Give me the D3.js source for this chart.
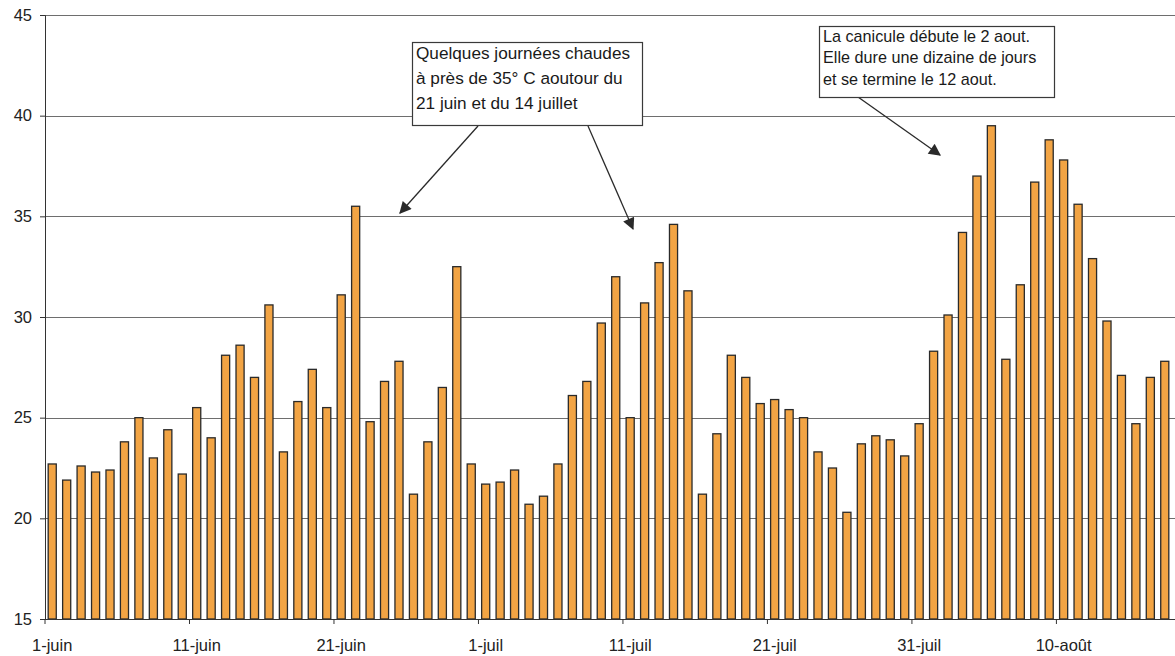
<!DOCTYPE html>
<html>
<head>
<meta charset="utf-8">
<script src="https://cdn.jsdelivr.net/npm/d3@7"></script>
<style>
  html, body { margin: 0; padding: 0; background: #ffffff; }
  svg { display: block; font-family: "Liberation Sans", Arial, sans-serif; }
</style>
</head>
<body>
<svg id="chart" width="1175" height="656"></svg>
<script>
// Daily maximum temperatures (°C), 1 June – 17 August
const temperatures = [
  22.7, 21.9, 22.6, 22.3, 22.4, 23.8, 25.0, 23.0, 24.4, 22.2,
  25.5, 24.0, 28.1, 28.6, 27.0, 30.6, 23.3, 25.8, 27.4, 25.5,
  31.1, 35.5, 24.8, 26.8, 27.8, 21.2, 23.8, 26.5, 32.5, 22.7,
  21.7, 21.8, 22.4, 20.7, 21.1, 22.7, 26.1, 26.8, 29.7, 32.0,
  25.0, 30.7, 32.7, 34.6, 31.3, 21.2, 24.2, 28.1, 27.0, 25.7,
  25.9, 25.4, 25.0, 23.3, 22.5, 20.3, 23.7, 24.1, 23.9, 23.1,
  24.7, 28.3, 30.1, 34.2, 37.0, 39.5, 27.9, 31.6, 36.7, 38.8,
  37.8, 35.6, 32.9, 29.8, 27.1, 24.7, 27.0, 27.8
];
const days = d3.range(temperatures.length); // day index from 1 June
const tickLabels = ["1-juin", "11-juin", "21-juin", "1-juil", "11-juil", "21-juil", "31-juil", "10-août"];
const tickIndex = [0, 10, 20, 30, 40, 50, 60, 70];
const yTicks = [15, 20, 25, 30, 35, 40, 45];

const notes = [
  { lines: ["Quelques journées chaudes", "à près de 35° C aoutour du", "21 juin et du 14 juillet"] },
  { lines: ["La canicule débute le 2 aout.", "Elle dure une dizaine de jours", "et se termine le 12 aout."] }
];

const svg = d3.select("#chart");
const pLeft = 45, pRight = 1172, pTop = 15, pBottom = 619;

const x = d3.scaleBand().domain(days).range([pLeft, pRight]).padding(0);
const y = d3.scaleLinear().domain([15, 45]).range([pBottom, pTop]);

// gridlines
svg.append("g").selectAll("line")
  .data(yTicks.filter(t => t > 15))
  .join("line")
  .attr("x1", pLeft).attr("x2", 1175)
  .attr("y1", d => Math.round(y(d)) + 0.5).attr("y2", d => Math.round(y(d)) + 0.5)
  .attr("stroke", "#6e6e6e").attr("stroke-width", 1);

// bars
const bw = x.bandwidth();
svg.append("g").selectAll("rect")
  .data(days)
  .join("rect")
  .attr("x", d => x(d) + bw * 0.22)
  .attr("width", bw * 0.56)
  .attr("y", d => y(temperatures[d]))
  .attr("height", d => pBottom - y(temperatures[d]))
  .attr("fill", "#f2a444")
  .attr("stroke", "#2a2a2a")
  .attr("stroke-width", 1.3);

// y axis
const yAxis = d3.axisLeft(y).tickValues(yTicks).tickSize(5).tickPadding(8);
const gy = svg.append("g").attr("transform", `translate(${pLeft},0)`).call(yAxis);
gy.select(".domain").attr("stroke", "#333");
gy.selectAll(".tick line").attr("stroke", "#333");
gy.selectAll(".tick text").attr("font-size", 16.5).attr("fill", "#222")
  .attr("font-family", "Liberation Sans, Arial, sans-serif");

// x axis
const gx = svg.append("g").attr("transform", `translate(0,${pBottom})`);
gx.append("line").attr("x1", pLeft).attr("x2", 1175).attr("y1", 0.5).attr("y2", 0.5).attr("stroke", "#333");
gx.selectAll("line.tk").data(tickIndex).join("line").attr("class", "tk")
  .attr("x1", d => x(d)).attr("x2", d => x(d)).attr("y1", 0).attr("y2", 5).attr("stroke", "#333");
gx.selectAll("text").data(tickIndex).join("text")
  .attr("x", d => x(d) + bw / 2).attr("y", 32)
  .attr("text-anchor", "middle").attr("font-size", 16.5).attr("fill", "#222")
  .text((d, i) => tickLabels[i]);

// arrows
const defs = svg.append("defs");
defs.append("marker").attr("id", "ah").attr("viewBox", "0 0 10 10")
  .attr("refX", 9).attr("refY", 5).attr("markerWidth", 16).attr("markerHeight", 12)
  .attr("markerUnits", "userSpaceOnUse").attr("orient", "auto")
  .append("path").attr("d", "M0,0 L10,5 L0,10 Z").attr("fill", "#2a2a2a");

const arrows = [
  [478, 126, 400, 213],
  [588, 126, 633, 229],
  [858, 97, 940, 155]
];
svg.append("g").selectAll("line").data(arrows).join("line")
  .attr("x1", d => d[0]).attr("y1", d => d[1]).attr("x2", d => d[2]).attr("y2", d => d[3])
  .attr("stroke", "#2a2a2a").attr("stroke-width", 1.3).attr("marker-end", "url(#ah)");

// annotation boxes
const boxes = [
  { x: 412, y: 42, w: 230, h: 83, fs: 17.2, lh: 25, base: 17 },
  { x: 819, y: 26, w: 235, h: 71, fs: 16.2, lh: 21.5, base: 15.5 }
];
boxes.forEach((b, i) => {
  const g = svg.append("g");
  g.append("rect").attr("x", b.x + 0.5).attr("y", b.y + 0.5).attr("width", b.w).attr("height", b.h)
    .attr("fill", "#ffffff").attr("stroke", "#3a3a3a").attr("stroke-width", 1.2);
  g.selectAll("text").data(notes[i].lines).join("text")
    .attr("x", b.x + 4).attr("y", (d, j) => b.y + b.base + j * b.lh)
    .attr("font-size", b.fs).attr("fill", "#1a1a1a").text(d => d);
});
</script>
</body>
</html>
